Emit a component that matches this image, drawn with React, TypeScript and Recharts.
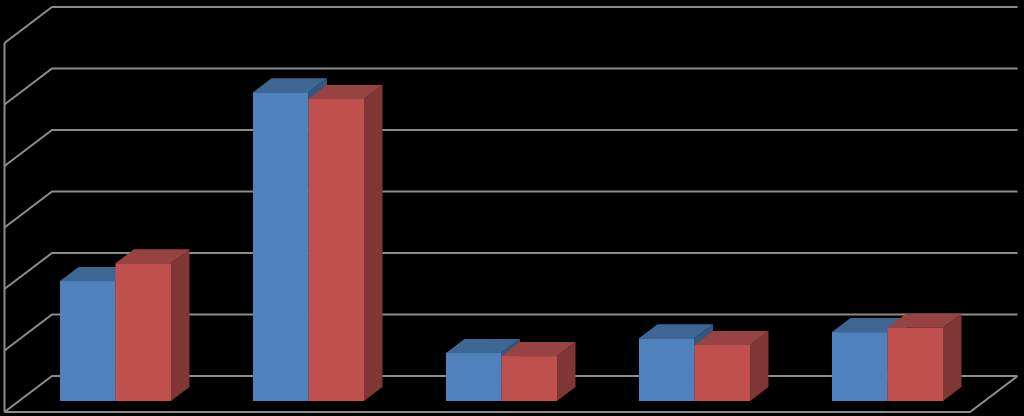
import React from 'react';
import { BarChart, Bar, XAxis, YAxis, CartesianGrid } from 'recharts';

const categories = ['A', 'B', 'C', 'D', 'E'];
const seriesBlue = [19.5, 50.2, 7.8, 10.2, 11.2];
const seriesRed = [22.4, 49.1, 7.3, 9.1, 11.9];
const valueTicks = [0, 10, 20, 30, 40, 50, 60];

const data = categories.map((name, i) => ({ name, blue: seriesBlue[i], red: seriesRed[i] }));

const DEPTH_X = 18.5;
const DEPTH_Y = 14;
const WALL_LEFT = 4.5;
const WALL_BACK_X = 52;
const WALL_RIGHT = 1017.5;
const WALL_BACK_OFF = -25;
const WALL_FRONT_OFF = 11;
const GRID = '#8c8c8c';

const makeBox = (front: string, top: string, side: string) => (p: any) => {
  const { x, y, width, height } = p;
  const r = x + width;
  const b = y + height;
  return (
    <g>
      <polygon points={`${r},${y} ${r + DEPTH_X},${y - DEPTH_Y} ${r + DEPTH_X},${b - DEPTH_Y} ${r},${b}`} fill={side} />
      <polygon points={`${x},${y} ${x + DEPTH_X},${y - DEPTH_Y} ${r + DEPTH_X},${y - DEPTH_Y} ${r},${y}`} fill={top} />
      <rect x={x} y={y} width={width} height={height} fill={front} />
    </g>
  );
};

const gridLine = (p: any) => {
  const { y1, index } = p;
  const back = y1 + WALL_BACK_OFF;
  const front = y1 + WALL_FRONT_OFF;
  const common = { fill: 'none', stroke: GRID, strokeWidth: 2 };
  const isZero = Math.abs(y1 - 401) < 1;
  const isTop = Math.abs(y1 - 32) < 1;
  const floorEnd = WALL_RIGHT - (WALL_BACK_X - WALL_LEFT);
  return (
    <g key={`grid-${index}`}>
      <polyline points={`${WALL_LEFT},${front} ${WALL_BACK_X},${back} ${WALL_RIGHT},${back}`} {...common} />
      {isZero && (
        <polyline points={`${WALL_LEFT},${front} ${floorEnd},${front} ${WALL_RIGHT},${back}`} {...common} />
      )}
      {isTop && <line x1={WALL_LEFT} y1={front} x2={WALL_LEFT} y2={front + 369} {...common} />}
    </g>
  );
};

export default function App() {
  return (
    <div style={{ position: 'fixed', left: 0, top: 0, width: 1024, height: 416, background: '#000', overflow: 'hidden' }}>
      <BarChart
        width={1024}
        height={416}
        data={data}
        margin={{ top: 32, bottom: 15, left: 19, right: 40 }}
        barGap={0}
        barSize={55.5}
      >
        <XAxis dataKey="name" hide />
        <YAxis hide domain={[0, 60]} ticks={valueTicks} />
        <CartesianGrid vertical={false} horizontal={gridLine} horizontalValues={valueTicks} />
        <Bar dataKey="blue" fill="#4F81BD" isAnimationActive={false} shape={makeBox('#4F81BD', '#3E6694', '#35577F')} />
        <Bar dataKey="red" fill="#C0504D" isAnimationActive={false} shape={makeBox('#C0504D', '#974341', '#803634')} />
      </BarChart>
    </div>
  );
}
